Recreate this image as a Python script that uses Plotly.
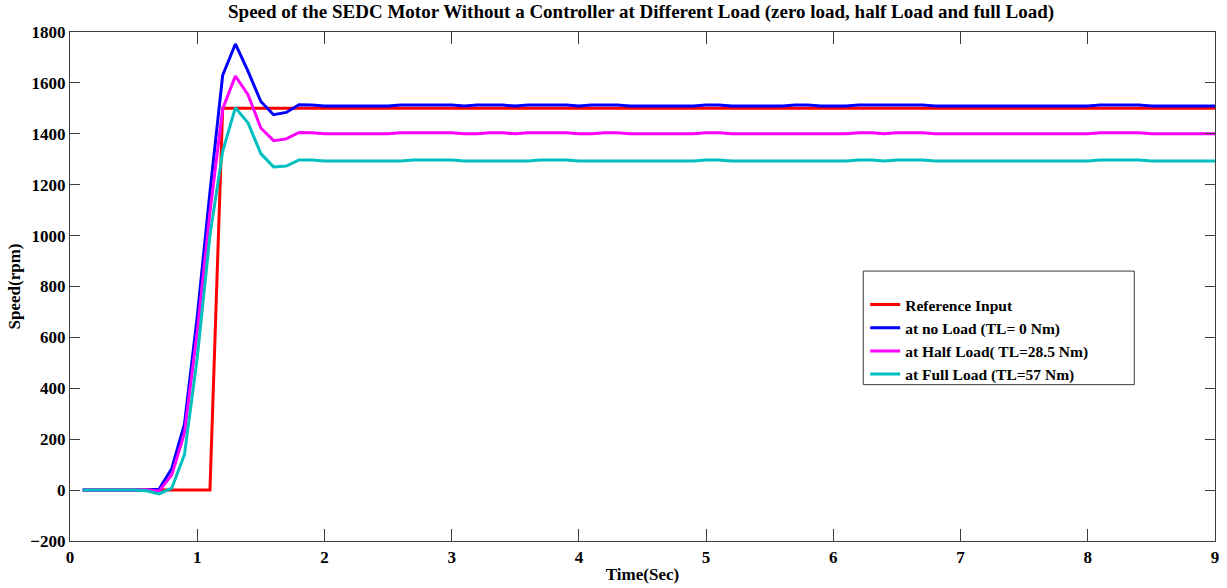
import plotly.graph_objects as go

# ---- data ----
t_ref = [0.1, 1.1, 1.2, 9.0]
speed_ref = [0, 0, 1500, 1500]

t_noload = [0.1, 0.2, 0.3, 0.4, 0.5, 0.6, 0.7, 0.8, 0.9, 1.0, 1.1, 1.2, 1.3, 1.4, 1.5, 1.6, 1.7, 1.8, 1.9, 2.0,
            2.5, 2.6, 3.0, 3.1, 3.2, 3.4, 3.5, 3.6, 3.9, 4.0, 4.1, 4.3, 4.4, 4.9, 5.0, 5.1, 5.2, 5.6, 5.7, 5.8,
            5.9, 6.1, 6.2, 6.7, 6.8, 8.0, 8.1, 8.4, 8.5, 9.0]
speed_noload = [0, 0, 0, 0, 0, 0, 3, 85, 260, 680, 1170, 1630, 1753, 1645, 1527, 1475, 1484, 1514, 1513, 1509,
                1509, 1513, 1513, 1509, 1513, 1513, 1509, 1513, 1513, 1509, 1513, 1513, 1509, 1509, 1513, 1513, 1509, 1509, 1513, 1513,
                1509, 1509, 1513, 1513, 1509, 1509, 1513, 1513, 1509, 1509]

t_half = [0.1, 0.2, 0.3, 0.4, 0.5, 0.6, 0.7, 0.8, 0.9, 1.0, 1.1, 1.2, 1.3, 1.4, 1.5, 1.6, 1.7, 1.8, 1.9, 2.0,
          2.5, 2.6, 3.0, 3.1, 3.2, 3.3, 3.4, 3.5, 3.6, 3.9, 4.0, 4.1, 4.2, 4.3, 4.4, 4.9, 5.0, 5.1, 5.2, 6.1,
          6.2, 6.3, 6.4, 6.5, 6.7, 6.8, 8.0, 8.1, 8.4, 8.5, 9.0]
speed_half = [0, 0, 0, 0, 0, 0, -4, 60, 225, 620, 1090, 1498, 1627, 1553, 1423, 1373, 1380, 1405, 1404, 1400,
              1400, 1404, 1404, 1400, 1400, 1404, 1404, 1400, 1404, 1404, 1400, 1400, 1404, 1404, 1400, 1400, 1404, 1404, 1400, 1400,
              1404, 1404, 1400, 1404, 1404, 1400, 1400, 1404, 1404, 1400, 1400]

t_full = [0.1, 0.2, 0.3, 0.4, 0.5, 0.6, 0.7, 0.8, 0.9, 1.0, 1.1, 1.2, 1.3, 1.4, 1.5, 1.6, 1.7, 1.8, 1.9, 2.0,
          2.6, 2.7, 3.0, 3.1, 3.6, 3.7, 3.9, 4.0, 4.9, 5.0, 5.1, 5.2, 6.1, 6.2, 6.3, 6.4, 6.5, 6.7, 6.8, 8.0,
          8.1, 8.4, 8.5, 9.0]
speed_full = [0, 0, 0, 0, 0, -3, -15, 8, 140, 520, 1000, 1331, 1503, 1442, 1322, 1270, 1273, 1297, 1297, 1293,
              1293, 1297, 1297, 1293, 1293, 1297, 1297, 1293, 1293, 1297, 1297, 1293, 1293, 1297, 1297, 1293, 1297, 1297, 1293, 1293,
              1297, 1297, 1293, 1293]

series_names = ["Reference Input", "at no Load (TL= 0 Nm)", "at Half Load( TL=28.5 Nm)", "at Full Load (TL=57 Nm)"]
series_colors = ["#FF0000", "#0000FF", "#FF00FF", "#00BFBF"]

x_ticks = [0, 1, 2, 3, 4, 5, 6, 7, 8, 9]
y_ticks = [-200, 0, 200, 400, 600, 800, 1000, 1200, 1400, 1600, 1800]

FONT = "Liberation Serif"

fig = go.Figure()
for xs, ys, name, col in zip([t_ref, t_noload, t_half, t_full],
                             [speed_ref, speed_noload, speed_half, speed_full],
                             series_names, series_colors):
    fig.add_trace(go.Scatter(x=xs, y=ys, mode="lines", name=name,
                             line=dict(color=col, width=3)))

axis_common = dict(showline=True, mirror="ticks", linecolor="#3c3c3c", linewidth=1.2,
                   ticks="inside", tickcolor="#3c3c3c", showgrid=False, zeroline=False,
                   tickfont=dict(family=FONT, size=17, color="black", weight="bold"))

fig.update_xaxes(range=[0, 9], tickvals=x_ticks, ticklen=12,
                 title=dict(text="Time(Sec)", font=dict(family=FONT, size=17, color="black", weight="bold"), standoff=2),
                 **axis_common)
fig.update_yaxes(range=[-200, 1800], tickvals=y_ticks, ticklen=10,
                 title=dict(text="Speed(rpm)", font=dict(family=FONT, size=17, color="black", weight="bold"), standoff=5),
                 **axis_common)

# legend box (MATLAB-style frame with empty top row)
fig.add_shape(type="rect", xref="paper", yref="paper",
              x0=0.6928, x1=0.9295, y0=0.3072, y1=0.5303,
              line=dict(color="#3c3c3c", width=1), fillcolor="white", layer="above")

fig.update_layout(
    width=1227, height=588,
    margin=dict(l=70, r=8, t=32, b=45),
    paper_bgcolor="white", plot_bgcolor="white",
    title=dict(text="Speed of the SEDC Motor Without a Controller at Different Load (zero load, half Load and full Load)",
               font=dict(family=FONT, size=19, color="black", weight="bold"),
               x=0.5225, xanchor="center", y=0.98, yanchor="middle"),
    legend=dict(x=0.6945, y=0.497, xanchor="left", yanchor="top",
                bgcolor="rgba(0,0,0,0)", borderwidth=0,
                font=dict(family=FONT, size=15.5, color="black", weight="bold"),
                itemwidth=30),
    showlegend=True,
)

fig.write_html("out.html")
